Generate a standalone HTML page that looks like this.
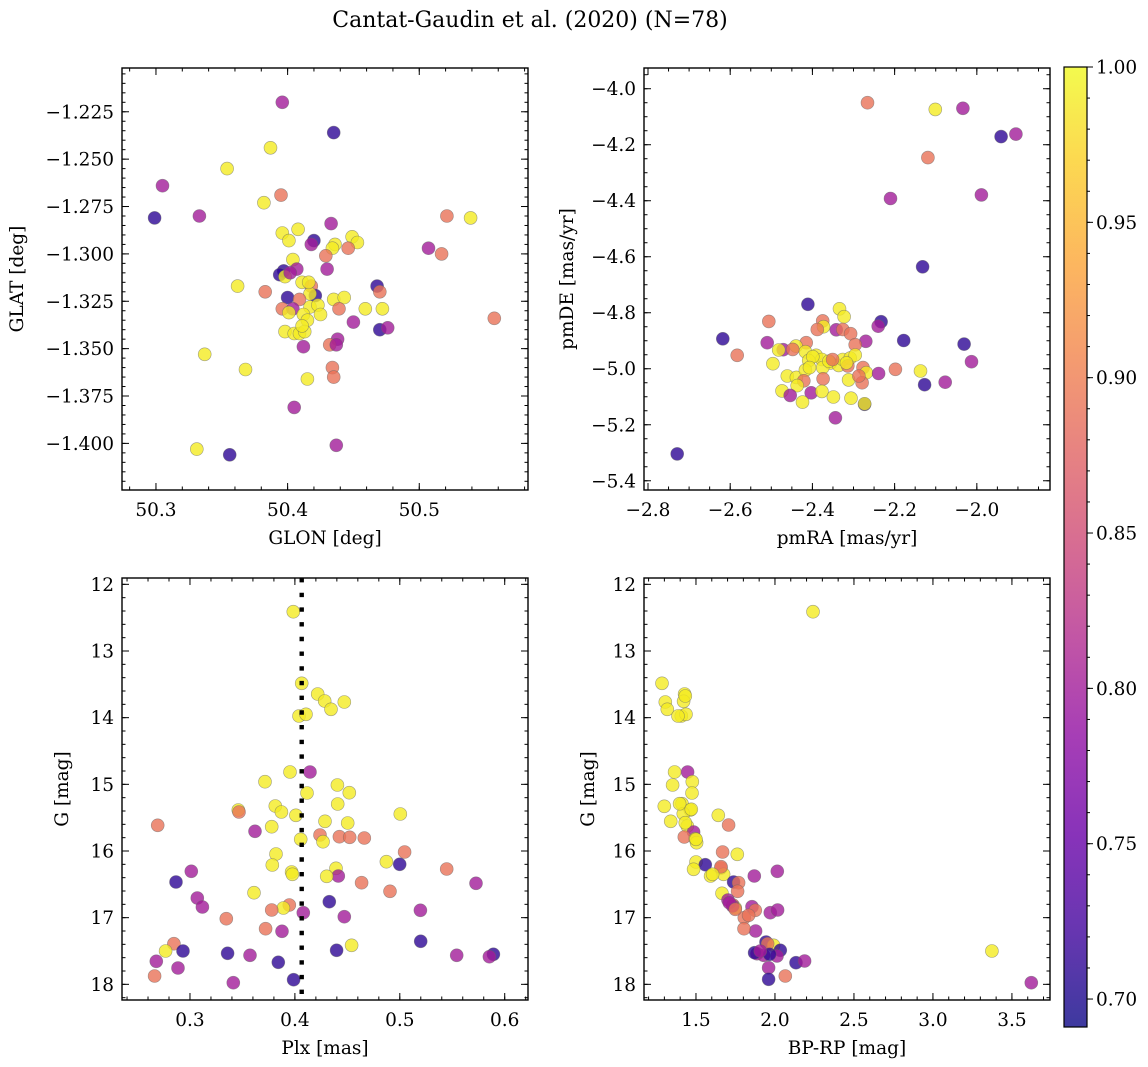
<!DOCTYPE html>
<html><head><meta charset="utf-8"><style>
html,body{margin:0;padding:0;background:#fff;}
svg{display:block;font-family:"DejaVu Serif","Liberation Serif",serif;}
</style></head><body>
<svg id="fig" width="1148" height="1067" viewBox="0 0 1148 1067" xmlns="http://www.w3.org/2000/svg">
<text x="530" y="27" font-size="22" text-anchor="middle">Cantat-Gaudin et al. (2020) (N=78)</text>
</svg>
<script>
// ---------- DATA ----------
const B=0.71,P=0.80,S=0.89,Y=0.99;
const glon=[50.396,50.435,50.387,50.354,50.305,50.395,50.382,50.299,50.333,50.521,50.539,50.433,50.396,50.408,50.401,50.420,50.418,50.449,50.453,50.446,50.436,50.434,50.507,50.517,50.429,50.404,50.430,50.397,50.394,50.407,50.398,50.411,50.362,50.468,50.470,50.383,50.418,50.421,50.417,50.400,50.409,50.435,50.443,50.396,50.404,50.401,50.417,50.423,50.425,50.459,50.472,50.439,50.412,50.415,50.450,50.470,50.476,50.398,50.405,50.409,50.413,50.438,50.432,50.437,50.412,50.337,50.368,50.434,50.435,50.415,50.405,50.437,50.331,50.356,50.557,50.411,50.416,50.402];
const glat=[-1.220,-1.236,-1.244,-1.255,-1.264,-1.269,-1.273,-1.281,-1.280,-1.280,-1.281,-1.284,-1.289,-1.287,-1.293,-1.293,-1.295,-1.291,-1.294,-1.297,-1.295,-1.297,-1.297,-1.300,-1.301,-1.303,-1.308,-1.309,-1.311,-1.308,-1.312,-1.315,-1.317,-1.317,-1.320,-1.320,-1.317,-1.322,-1.321,-1.323,-1.324,-1.324,-1.323,-1.329,-1.329,-1.331,-1.328,-1.327,-1.332,-1.329,-1.329,-1.329,-1.332,-1.335,-1.336,-1.340,-1.339,-1.341,-1.342,-1.342,-1.341,-1.345,-1.348,-1.348,-1.349,-1.353,-1.361,-1.360,-1.365,-1.366,-1.381,-1.401,-1.403,-1.406,-1.334,-1.338,-1.315,-1.310];
const probPos=[P,B,Y,Y,P,S,Y,B,P,S,Y,P,Y,Y,Y,B,P,Y,Y,S,Y,Y,P,S,S,Y,P,B,B,P,Y,Y,Y,B,S,S,S,B,Y,B,S,Y,Y,S,P,Y,Y,Y,Y,Y,Y,S,Y,Y,P,B,P,Y,Y,Y,Y,P,S,P,P,Y,Y,S,S,Y,P,P,Y,B,S,Y,Y,P];

const pmra=[-2.266,-2.101,-2.034,-1.941,-1.905,-2.119,-2.210,-1.989,-2.132,-2.411,-2.334,-2.323,-2.506,-2.375,-2.373,-2.388,-2.342,-2.326,-2.307,-2.233,-2.240,-2.618,-2.510,-2.415,-2.270,-2.178,-2.296,-2.031,-2.471,-2.482,-2.440,-2.417,-2.391,-2.377,-2.356,-2.336,-2.326,-2.308,-2.296,-2.583,-2.496,-2.409,-2.375,-2.314,-2.277,-2.269,-2.239,-2.198,-2.137,-2.013,-2.461,-2.439,-2.417,-2.374,-2.421,-2.312,-2.279,-2.127,-2.077,-2.437,-2.474,-2.454,-2.403,-2.377,-2.349,-2.306,-2.424,-2.273,-2.273,-2.344,-2.729,-2.287,-2.399,-2.360,-2.317,-2.407,-2.448,-2.351];
const pmde=[-4.050,-4.074,-4.070,-4.171,-4.162,-4.246,-4.392,-4.379,-4.636,-4.770,-4.786,-4.814,-4.831,-4.829,-4.850,-4.860,-4.861,-4.860,-4.875,-4.832,-4.848,-4.893,-4.907,-4.907,-4.902,-4.899,-4.914,-4.912,-4.932,-4.933,-4.919,-4.939,-4.952,-4.967,-4.979,-4.988,-4.967,-4.962,-4.951,-4.952,-4.982,-4.971,-4.996,-4.990,-4.996,-5.014,-5.017,-5.002,-5.008,-4.975,-5.026,-5.031,-5.005,-5.036,-5.043,-5.040,-5.050,-5.057,-5.048,-5.060,-5.079,-5.095,-5.086,-5.081,-5.101,-5.105,-5.119,-5.127,-5.125,-5.175,-5.304,-5.026,-4.957,-4.973,-4.979,-4.996,-4.931,-4.967];
const probPm=[S,Y,P,B,P,S,P,P,B,B,Y,Y,S,S,Y,S,P,S,S,B,P,B,P,S,P,B,S,B,P,Y,Y,Y,Y,Y,Y,Y,Y,Y,Y,S,Y,Y,Y,S,S,Y,P,S,Y,P,Y,Y,Y,S,S,Y,S,B,P,Y,Y,P,P,Y,Y,Y,Y,B,Y,P,B,S,Y,Y,Y,Y,S,S];

const plx=[0.3985,0.4065,0.4217,0.4284,0.4344,0.4471,0.4039,0.4106,0.3953,0.4144,0.3715,0.4405,0.4115,0.4519,0.4408,0.3461,0.3467,0.3813,0.3871,0.4010,0.5005,0.2692,0.3779,0.4287,0.4503,0.3620,0.4239,0.4424,0.4522,0.4662,0.4055,0.4268,0.3820,0.5046,0.3785,0.4872,0.4999,0.5447,0.3013,0.3969,0.3976,0.4392,0.4414,0.4303,0.2867,0.4636,0.5726,0.3610,0.4907,0.3070,0.4328,0.3118,0.3947,0.3890,0.3779,0.5196,0.4080,0.3346,0.4471,0.3721,0.3877,0.2847,0.5199,0.2768,0.2933,0.3359,0.3572,0.4398,0.4541,0.5542,0.5892,0.5854,0.2679,0.2886,0.3842,0.2663,0.3413,0.3988];
const gPlx=[12.41,13.485,13.645,13.75,13.875,13.765,13.975,13.95,14.815,14.815,14.96,15.01,15.13,15.125,15.295,15.385,15.415,15.325,15.415,15.465,15.445,15.615,15.635,15.555,15.58,15.705,15.76,15.785,15.795,15.805,15.825,15.86,16.045,16.015,16.21,16.16,16.2,16.27,16.305,16.315,16.35,16.26,16.375,16.38,16.465,16.475,16.485,16.625,16.605,16.705,16.76,16.84,16.81,16.855,16.885,16.89,16.925,17.015,16.985,17.165,17.205,17.39,17.355,17.5,17.5,17.535,17.565,17.49,17.415,17.565,17.55,17.585,17.655,17.755,17.67,17.875,17.975,17.93];
const probPlx=[Y,Y,Y,Y,Y,Y,Y,Y,Y,P,Y,Y,Y,Y,Y,Y,S,Y,Y,Y,Y,S,Y,Y,Y,P,S,S,S,S,Y,Y,Y,S,Y,Y,B,S,P,Y,Y,Y,P,Y,B,S,P,Y,S,P,B,P,S,Y,S,P,P,S,P,S,P,S,B,Y,B,B,P,B,Y,P,B,P,P,P,B,S,P,B];
const plxRef=0.4065;

const bprp=[2.2405,1.2848,1.4283,1.3059,1.3186,1.4219,1.4072,1.4367,1.365,1.4473,1.3523,1.4768,1.4747,1.4114,1.2996,1.4641,1.4198,1.6414,1.3397,1.7068,1.4451,1.4852,1.4262,1.4958,1.5042,1.6688,1.7616,1.5,1.5591,1.4852,1.6582,1.5928,1.6751,1.8692,2.0148,1.7384,1.77,1.7637,1.6646,1.7025,1.7342,1.7489,1.8544,1.8755,1.9705,2.0169,1.8059,1.8776,1.8038,1.943,1.9916,1.9536,2.0338,1.8861,1.9283,2.0127,1.9662,2.1329,2.1878,1.9599,1.9599,2.0654,3.3734,3.6224,1.3966,1.4705,1.4325,1.5,1.6582,1.7321,1.711,1.8713,1.9072,1.8333,1.3861,1.4325,1.6055,1.7489];
const gCmd=[12.41,13.485,13.645,13.765,13.875,13.755,13.975,13.95,14.815,14.815,15.01,14.96,15.13,15.29,15.33,15.385,15.44,15.465,15.555,15.61,15.625,15.715,15.79,15.815,15.875,16.015,16.05,16.165,16.205,16.275,16.255,16.375,16.35,16.375,16.305,16.465,16.475,16.605,16.635,16.735,16.81,16.855,16.835,16.89,16.925,16.885,17.0,17.2,17.165,17.365,17.415,17.39,17.49,17.54,17.565,17.575,17.55,17.675,17.65,17.75,17.925,17.875,17.5,17.975,15.29,15.375,15.575,15.825,16.235,16.825,16.775,17.525,17.5,16.965,13.975,13.675,16.35,16.875];
const probCmd=[Y,Y,Y,Y,Y,Y,Y,Y,Y,P,Y,Y,Y,Y,Y,Y,Y,Y,Y,S,Y,P,S,Y,Y,S,Y,Y,B,Y,S,Y,Y,P,P,B,S,S,Y,P,S,Y,P,S,P,P,S,P,S,B,Y,S,B,P,P,P,B,B,P,P,B,S,Y,P,Y,Y,Y,Y,S,P,P,B,P,S,Y,Y,Y,S];

const cbTicks=[0.70,0.75,0.80,0.85,0.90,0.95,1.00];
const cbMin=0.691, cbMax=1.0;

// ---------- RENDER ----------
const NS="http://www.w3.org/2000/svg";
const svg=document.getElementById('fig');
function mk(tag,attrs,parent){const e=document.createElementNS(NS,tag);for(const k in attrs)e.setAttribute(k,attrs[k]);(parent||svg).appendChild(e);return e;}
const stops=[[0,"#0d0887"],[0.1,"#41049d"],[0.2,"#6a00a8"],[0.3,"#8f0da4"],[0.4,"#b12a90"],[0.5,"#cc4778"],[0.6,"#e16462"],[0.7,"#f2844b"],[0.8,"#fca636"],[0.9,"#fcce25"],[1,"#f0f921"]];
function hex(h){return[parseInt(h.slice(1,3),16),parseInt(h.slice(3,5),16),parseInt(h.slice(5,7),16)];}
function plasma(t){t=Math.max(0,Math.min(1,t));for(let i=1;i<stops.length;i++){if(t<=stops[i][0]){const a=stops[i-1],b=stops[i];const f=(t-a[0])/(b[0]-a[0]);const ca=hex(a[1]),cb=hex(b[1]);return "rgb("+ca.map((v,j)=>Math.round(v+(cb[j]-v)*f)).join(",")+")";}}return stops[stops.length-1][1];}
function fmt(v,d){const s=Math.abs(v).toFixed(d);return (v<-1e-9?"\u2212":"")+s;}

function panel(o){
  const g=mk('g',{});
  
  
  const sx=v=>o.x0+(v-o.xd[0])/(o.xd[1]-o.xd[0])*(o.x1-o.x0);
  const sy=v=>o.y0+(v-o.yd[0])/(o.yd[1]-o.yd[0])*(o.y1-o.y0);
  const clip=mk('clipPath',{id:'c'+o.name},g);
  mk('rect',{x:o.x0,y:o.y0,width:o.x1-o.x0,height:o.y1-o.y0},clip);
  const pts=mk('g',{'clip-path':'url(#c'+o.name+')'},g);
  for(let i=0;i<o.xs.length;i++){
    const c=mk('circle',{cx:sx(o.xs[i]).toFixed(1),cy:sy(o.ys[i]).toFixed(1),r:6.5,fill:plasma((o.ps[i]-cbMin)/(cbMax-cbMin)),'fill-opacity':0.8,stroke:'#666','stroke-width':0.6,'stroke-opacity':0.6},pts);
    
    
  }
  if(o.vline!==undefined){
    const l=mk('line',{x1:sx(o.vline),x2:sx(o.vline),y1:o.y0,y2:o.y1,stroke:'#000','stroke-width':4.4,'stroke-dasharray':'4.4 10.3'},pts);
    
    
  }
  const tk=mk('g',{stroke:'#000','stroke-width':1},g);
  function ticksAxis(dom,step,cb){const lo=Math.min(dom[0],dom[1]),hi=Math.max(dom[0],dom[1]);const a=Math.ceil(lo/step-1e-6),b=Math.floor(hi/step+1e-6);for(let k=a;k<=b;k++)cb(k*step);}
  ticksAxis(o.xd,o.xminor,v=>{const x=sx(v);mk('line',{x1:x,x2:x,y1:o.y1,y2:o.y1-3.5},tk);mk('line',{x1:x,x2:x,y1:o.y0,y2:o.y0+3.5},tk);});
  ticksAxis(o.yd,o.yminor,v=>{const y=sy(v);mk('line',{x1:o.x0,x2:o.x0+3.5,y1:y,y2:y},tk);mk('line',{x1:o.x1,x2:o.x1-3.5,y1:y,y2:y},tk);});
  ticksAxis(o.xd,o.xmajor,v=>{const x=sx(v);mk('line',{x1:x,x2:x,y1:o.y1,y2:o.y1-7},tk);mk('line',{x1:x,x2:x,y1:o.y0,y2:o.y0+7},tk);
    const t=mk('text',{x:x,y:o.y1+26,'font-size':18.5,'text-anchor':'middle'},g);t.textContent=fmt(v,o.xdec);
    });
  ticksAxis(o.yd,o.ymajor,v=>{const y=sy(v);mk('line',{x1:o.x0,x2:o.x0+7,y1:y,y2:y},tk);mk('line',{x1:o.x1,x2:o.x1-7,y1:y,y2:y},tk);
    const t=mk('text',{x:o.x0-8,y:y+6.5,'font-size':18.5,'text-anchor':'end'},g);t.textContent=fmt(v,o.ydec);
    });
  const fr=mk('rect',{x:o.x0,y:o.y0,width:o.x1-o.x0,height:o.y1-o.y0,fill:'none',stroke:'#000','stroke-width':1.4},g);
  
  const xl=mk('text',{x:(o.x0+o.x1)/2,y:o.y1+54,'font-size':18.5,'text-anchor':'middle'},g);xl.textContent=o.xlabel;
  
  const yl=mk('text',{x:o.ylx,y:(o.y0+o.y1)/2,'font-size':18.5,'text-anchor':'middle',transform:'rotate(-90 '+o.ylx+' '+(o.y0+o.y1)/2+')'},g);yl.textContent=o.ylabel;
  
}

panel({name:'position-panel',x0:122,x1:528,y0:68,y1:490,xd:[50.2742,50.5826],yd:[-1.2019,-1.4246],xs:glon,ys:glat,ps:probPos,xmajor:0.1,xminor:0.02,ymajor:0.025,yminor:0.005,xdec:1,ydec:3,xlabel:'GLON [deg]',ylabel:'GLAT [deg]',ylx:23});
panel({name:'proper-motion-panel',x0:644,x1:1050,y0:68,y1:490,xd:[-2.8097,-1.822],yd:[-3.926,-5.433],xs:pmra,ys:pmde,ps:probPm,xmajor:0.2,xminor:0.05,ymajor:0.2,yminor:0.05,xdec:1,ydec:1,xlabel:'pmRA [mas/yr]',ylabel:'pmDE [mas/yr]',ylx:573});
panel({name:'parallax-panel',x0:122,x1:528,y0:578,y1:1000,xd:[0.2352,0.6222],yd:[11.905,18.235],xs:plx,ys:gPlx,ps:probPlx,vline:plxRef,xmajor:0.1,xminor:0.02,ymajor:1,yminor:0.2,xdec:1,ydec:0,xlabel:'Plx [mas]',ylabel:'G [mag]',ylx:68});
panel({name:'cmd-panel',x0:644,x1:1050,y0:578,y1:1000,xd:[1.171,3.741],yd:[11.905,18.235],xs:bprp,ys:gCmd,ps:probCmd,xmajor:0.5,xminor:0.1,ymajor:1,yminor:0.2,xdec:1,ydec:0,xlabel:'BP-RP [mag]',ylabel:'G [mag]',ylx:594});

// colorbar
const cb=mk('g',{});


const defs=mk('defs',{},cb);
const lg=mk('linearGradient',{id:'plasmaGrad',x1:0,y1:1,x2:0,y2:0},defs);
for(let i=0;i<=20;i++){mk('stop',{offset:(i/20),'stop-color':plasma(i/20),'stop-opacity':0.8},lg);}
const cbx0=1064,cbx1=1087,cby0=67,cby1=1027;
mk('rect',{x:cbx0,y:cby0,width:cbx1-cbx0,height:cby1-cby0,fill:'url(#plasmaGrad)',stroke:'#000','stroke-width':1.2},cb);
const cy=v=>cby1-(v-cbMin)/(cbMax-cbMin)*(cby1-cby0);
for(let k=Math.ceil(cbMin*100);k<=100;k++){const y=cy(k/100);mk('line',{x1:cbx1,x2:cbx1+3,y1:y,y2:y,stroke:'#000','stroke-width':1},cb);}
cbTicks.forEach(v=>{const y=cy(v);mk('line',{x1:cbx1,x2:cbx1+6,y1:y,y2:y,stroke:'#000','stroke-width':1},cb);
  const t=mk('text',{x:1096,y:y+6.5,'font-size':18.5},cb);t.textContent=v.toFixed(2);
  });
</script>
</body></html>
